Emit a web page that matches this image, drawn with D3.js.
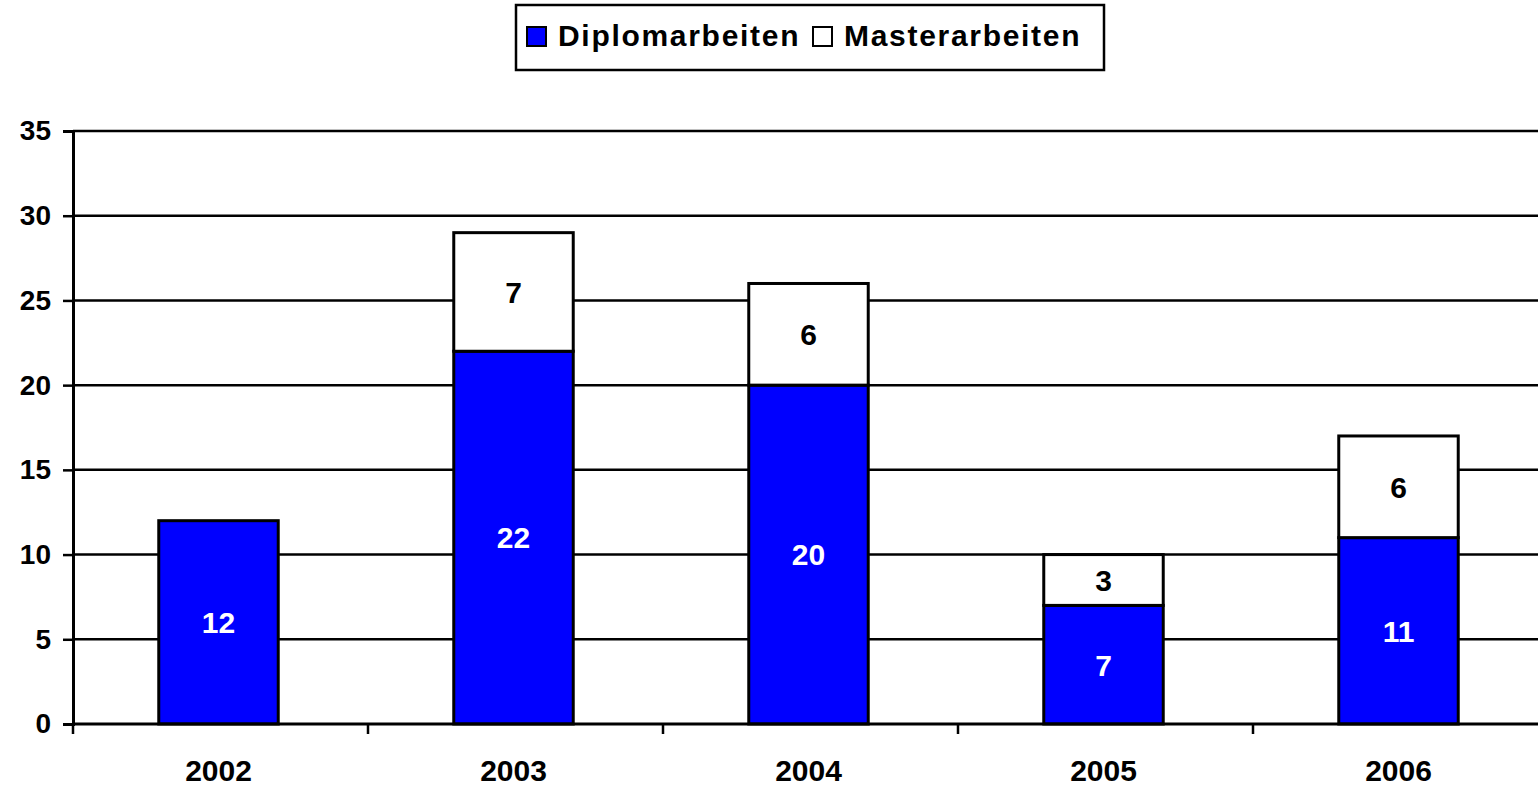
<!DOCTYPE html>
<html>
<head>
<meta charset="utf-8">
<script src="https://cdn.jsdelivr.net/npm/d3@7"></script>
<style>
  body { margin: 0; background: #fff; }
  text { font-family: Arial, "Liberation Sans", sans-serif; font-weight: bold; }
</style>
</head>
<body>
<script>
// values
var years = ['2002', '2003', '2004', '2005', '2006'];
var diplom = [12, 22, 20, 7, 11];
var master = [0, 7, 6, 3, 6];
var seriesNames = ['Diplomarbeiten', 'Masterarbeiten'];
var seriesColors = ['#0000ff', '#ffffff'];
var yTicks = [0, 5, 10, 15, 20, 25, 30, 35];

var width = 1538;
var height = 787;
var plotLeft = 73, plotRight = 1548, plotTop = 131, plotBottom = 724;

var svg = d3.select('body').append('svg')
  .attr('width', width)
  .attr('height', height);

// bars sit a touch left of the band centre in the original
var x = d3.scaleBand()
  .domain(years)
  .range([plotLeft - 2, plotRight - 2])
  .paddingInner(0.595)
  .paddingOuter(0.2975);

var y = d3.scaleLinear()
  .domain([0, 35])
  .range([plotBottom, plotTop]);

// gridlines
svg.append('g').selectAll('line')
  .data(yTicks.filter(function(d) { return d > 0; }))
  .enter().append('line')
  .attr('x1', plotLeft).attr('x2', plotRight)
  .attr('y1', function(d) { return y(d); })
  .attr('y2', function(d) { return y(d); })
  .attr('stroke', '#000')
  .attr('stroke-width', 2.5);

// stacked data
var rows = years.map(function(yr, i) {
  return { year: yr, Diplomarbeiten: diplom[i], Masterarbeiten: master[i] };
});
var stacked = d3.stack().keys(seriesNames)(rows);

var layers = svg.append('g').selectAll('g')
  .data(stacked)
  .enter().append('g')
  .attr('fill', function(d, i) { return seriesColors[i]; });

layers.selectAll('rect')
  .data(function(d) { return d.filter(function(p) { return p[1] - p[0] > 0; }); })
  .enter().append('rect')
  .attr('x', function(d) { return x(d.data.year); })
  .attr('width', x.bandwidth())
  .attr('y', function(d) { return y(d[1]); })
  .attr('height', function(d) { return y(d[0]) - y(d[1]); })
  .attr('stroke', '#000')
  .attr('stroke-width', 3);

// value labels
layers.each(function(layer, i) {
  d3.select(this).selectAll('text')
    .data(layer.filter(function(p) { return p[1] - p[0] > 0; }))
    .enter().append('text')
    .attr('x', function(d) { return x(d.data.year) + x.bandwidth() / 2; })
    .attr('y', function(d) { return (y(d[0]) + y(d[1])) / 2; })
    .attr('dy', '0.36em')
    .attr('text-anchor', 'middle')
    .attr('font-size', 30)
    .attr('fill', i === 0 ? '#fff' : '#000')
    .text(function(d) { return d[1] - d[0]; });
});

// y axis
var yAxis = svg.append('g')
  .attr('transform', 'translate(' + plotLeft + ',0)')
  .call(d3.axisLeft(y).tickValues(yTicks).tickSize(10).tickPadding(12));
yAxis.select('.domain').attr('stroke-width', 3);
yAxis.selectAll('.tick line').attr('stroke-width', 2.5);
yAxis.selectAll('text').attr('font-size', 28).attr('fill', '#000')
  .style('font-family', 'Arial, "Liberation Sans", sans-serif').style('font-weight', 'bold');

// x axis
var xAxis = svg.append('g')
  .attr('transform', 'translate(0,' + plotBottom + ')');
xAxis.append('line')
  .attr('x1', plotLeft).attr('x2', plotRight)
  .attr('stroke', '#000').attr('stroke-width', 3);
var step = x.step();
xAxis.selectAll('line.tick')
  .data(d3.range(years.length + 1))
  .enter().append('line')
  .attr('class', 'tick')
  .attr('x1', function(i) { return plotLeft + i * step; })
  .attr('x2', function(i) { return plotLeft + i * step; })
  .attr('y1', 0).attr('y2', 10)
  .attr('stroke', '#000').attr('stroke-width', 2.5);
xAxis.selectAll('text')
  .data(years)
  .enter().append('text')
  .attr('x', function(d) { return x(d) + x.bandwidth() / 2; })
  .attr('y', 57)
  .attr('text-anchor', 'middle')
  .attr('font-size', 30)
  .text(function(d) { return d; });

// legend
var legend = svg.append('g');
legend.append('rect')
  .attr('x', 516).attr('y', 5)
  .attr('width', 588).attr('height', 65)
  .attr('fill', '#fff').attr('stroke', '#000').attr('stroke-width', 2.5);
var legendX = [527, 813];
seriesNames.forEach(function(name, i) {
  legend.append('rect')
    .attr('x', legendX[i]).attr('y', 27)
    .attr('width', 19).attr('height', 19)
    .attr('fill', seriesColors[i])
    .attr('stroke', '#000').attr('stroke-width', 2);
  legend.append('text')
    .attr('x', legendX[i] + 31).attr('y', 46)
    .attr('font-size', 30)
    .attr('letter-spacing', 1.7)
    .text(name);
});
</script>
</body>
</html>
